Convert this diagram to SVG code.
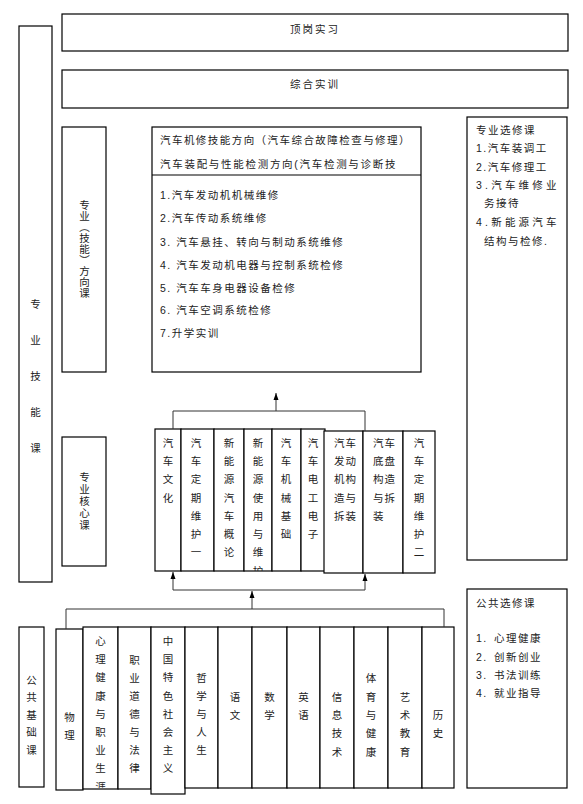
<svg xmlns="http://www.w3.org/2000/svg" width="583" height="804" viewBox="0 0 583 804">
<style>
.box{fill:#fff;stroke:#000;stroke-width:1.2}
.t{font-family:"Liberation Sans","Noto Sans CJK SC",sans-serif;font-size:10.5px;fill:#222}
.c{text-anchor:middle;dominant-baseline:central}
.l{dominant-baseline:central;letter-spacing:1.5px}
.vr{writing-mode:vertical-rl;text-anchor:middle;letter-spacing:1.5px}
.conn{stroke:#333;fill:none;stroke-width:1}
</style>
<defs>
<marker id="arr" markerUnits="userSpaceOnUse" markerWidth="8" markerHeight="8" viewBox="0 0 8 8" refX="7" refY="4" orient="auto">
<path d="M0,1.5 L7,4 L0,6.5 z" fill="#000"/>
</marker>
<clipPath id="clipXin"><rect x="83" y="627" width="35" height="161"/></clipPath>
<clipPath id="clipWei"><rect x="244" y="429" width="28" height="142"/></clipPath>
</defs>

<g id="n-zhuanye-jineng">
<rect class="box" x="19" y="26" width="33" height="556"/>
<text class="t c"><tspan x="35.5" y="304">专</tspan><tspan x="35.5" y="340">业</tspan><tspan x="35.5" y="376">技</tspan><tspan x="35.5" y="412">能</tspan><tspan x="35.5" y="448">课</tspan></text>
</g>

<g id="n-dinggang">
<rect class="box" x="62" y="14" width="506" height="37"/>
<text class="t c" x="315" y="29" style="letter-spacing:2px">顶岗实习</text>
</g>
<g id="n-zonghe">
<rect class="box" x="62" y="70" width="506" height="38"/>
<text class="t c" x="315" y="84" style="letter-spacing:2px">综合实训</text>
</g>

<g id="n-fangxiang-label">
<rect class="box" x="62" y="127" width="44" height="245"/>
<text class="t vr" x="84" y="249.5" style="letter-spacing:0.5px">专业（技能）方向课</text>
</g>

<g id="n-fangxiang">
<rect class="box" x="152" y="127" width="269" height="245"/>
<line x1="152" y1="175" x2="421" y2="175" stroke="#000" stroke-width="1.2"/>
<text class="t l" x="160" y="140" textLength="251" lengthAdjust="spacing">汽车机修技能方向（汽车综合故障检查与修理）</text>
<text class="t l" x="160" y="164" textLength="237" lengthAdjust="spacing">汽车装配与性能检测方向(汽车检测与诊断技</text>
<text class="t l" x="160" y="195">1.汽车发动机机械维修</text>
<text class="t l" x="160" y="218">2.汽车传动系统维修</text>
<text class="t l" x="160" y="242">3. 汽车悬挂、转向与制动系统维修</text>
<text class="t l" x="160" y="265">4. 汽车发动机电器与控制系统检修</text>
<text class="t l" x="160" y="288">5. 汽车车身电器设备检修</text>
<text class="t l" x="160" y="310">6. 汽车空调系统检修</text>
<text class="t l" x="160" y="333">7.升学实训</text>
</g>

<g id="n-zhuanye-xuanxiu">
<rect class="box" x="467" y="117" width="100" height="443"/>
<text class="t l" x="476" y="130">专业选修课</text>
<text class="t l" x="476" y="148">1.汽车装调工</text>
<text class="t l" x="476" y="167">2.汽车修理工</text>
<text class="t l" x="476" y="185" textLength="82" lengthAdjust="spacing">3.汽车维修业</text>
<text class="t l" x="484" y="203">务接待</text>
<text class="t l" x="476" y="222" textLength="82" lengthAdjust="spacing">4.新能源汽车</text>
<text class="t l" x="484" y="241">结构与检修.</text>
</g>

<g id="n-hexin-label">
<rect class="box" x="62" y="437" width="44" height="129"/>
<text class="t vr" x="84" y="501.5">专业核心课</text>
</g>

<g id="n-qiche-wenhua">
<rect class="box" x="155" y="429" width="26" height="142"/>
<text class="t c"><tspan x="168" y="443">汽</tspan><tspan x="168" y="461">车</tspan><tspan x="168" y="479">文</tspan><tspan x="168" y="498">化</tspan></text>
</g>
<g id="n-dingqi-1">
<rect class="box" x="181" y="429" width="33" height="142"/>
<text class="t c"><tspan x="196" y="443">汽</tspan><tspan x="196" y="461">车</tspan><tspan x="196" y="479">定</tspan><tspan x="196" y="498">期</tspan><tspan x="196" y="516">维</tspan><tspan x="196" y="534">护</tspan><tspan x="196" y="552">一</tspan></text>
</g>
<g id="n-xinnengyuan-gailun">
<rect class="box" x="214" y="429" width="30" height="142"/>
<text class="t c"><tspan x="229" y="443">新</tspan><tspan x="229" y="461">能</tspan><tspan x="229" y="479">源</tspan><tspan x="229" y="498">汽</tspan><tspan x="229" y="516">车</tspan><tspan x="229" y="534">概</tspan><tspan x="229" y="552">论</tspan></text>
</g>
<g id="n-xinnengyuan-shiyong">
<rect class="box" x="244" y="429" width="28" height="142"/>
<text class="t c" clip-path="url(#clipWei)"><tspan x="258" y="443">新</tspan><tspan x="258" y="461">能</tspan><tspan x="258" y="479">源</tspan><tspan x="258" y="498">使</tspan><tspan x="258" y="516">用</tspan><tspan x="258" y="534">与</tspan><tspan x="258" y="552">维</tspan><tspan x="258" y="571">护</tspan></text>
</g>
<g id="n-jixie">
<rect class="box" x="272" y="429" width="29" height="142"/>
<text class="t c"><tspan x="286" y="443">汽</tspan><tspan x="286" y="461">车</tspan><tspan x="286" y="479">机</tspan><tspan x="286" y="498">械</tspan><tspan x="286" y="516">基</tspan><tspan x="286" y="534">础</tspan></text>
</g>
<g id="n-diangong">
<rect class="box" x="301" y="429" width="24" height="142"/>
<text class="t c"><tspan x="313" y="443">汽</tspan><tspan x="313" y="461">车</tspan><tspan x="313" y="479">电</tspan><tspan x="313" y="498">工</tspan><tspan x="313" y="516">电</tspan><tspan x="313" y="534">子</tspan></text>
</g>
<g id="n-fadongji">
<rect class="box" x="324" y="431" width="39" height="142"/>
<text class="t l" style="letter-spacing:1px"><tspan x="334" y="443">汽车</tspan><tspan x="334" y="461">发动</tspan><tspan x="334" y="479">机构</tspan><tspan x="334" y="498">造与</tspan><tspan x="334" y="516">拆装</tspan></text>
</g>
<g id="n-dipan">
<rect class="box" x="363" y="431" width="40" height="142"/>
<text class="t l" style="letter-spacing:1px"><tspan x="373" y="443">汽车</tspan><tspan x="373" y="461">底盘</tspan><tspan x="373" y="479">构造</tspan><tspan x="373" y="498">与拆</tspan><tspan x="373" y="516">装</tspan></text>
</g>
<g id="n-dingqi-2">
<rect class="box" x="403" y="431" width="32" height="142"/>
<text class="t c"><tspan x="419" y="443">汽</tspan><tspan x="419" y="461">车</tspan><tspan x="419" y="479">定</tspan><tspan x="419" y="498">期</tspan><tspan x="419" y="516">维</tspan><tspan x="419" y="534">护</tspan><tspan x="419" y="552">二</tspan></text>
</g>

<g id="n-gonggong-label">
<rect class="box" x="19" y="627" width="25" height="160"/>
<text class="t c"><tspan x="31.5" y="680">公</tspan><tspan x="31.5" y="697">共</tspan><tspan x="31.5" y="715">基</tspan><tspan x="31.5" y="732">础</tspan><tspan x="31.5" y="750">课</tspan></text>
</g>

<g id="n-wuli">
<rect class="box" x="56" y="629" width="27" height="161"/>
<text class="t c"><tspan x="69.5" y="717">物</tspan><tspan x="69.5" y="735">理</tspan></text>
</g>
<g id="n-xinli">
<rect class="box" x="83" y="627" width="35" height="162"/>
<text class="t c" clip-path="url(#clipXin)"><tspan x="100.5" y="641">心</tspan><tspan x="100.5" y="659">理</tspan><tspan x="100.5" y="677">健</tspan><tspan x="100.5" y="696">康</tspan><tspan x="100.5" y="714">与</tspan><tspan x="100.5" y="732">职</tspan><tspan x="100.5" y="750">业</tspan><tspan x="100.5" y="768">生</tspan><tspan x="100.5" y="787">涯</tspan></text>
</g>
<g id="n-zhiye">
<rect class="box" x="118" y="627" width="33" height="162"/>
<text class="t c"><tspan x="134.5" y="660">职</tspan><tspan x="134.5" y="678">业</tspan><tspan x="134.5" y="696">道</tspan><tspan x="134.5" y="714">德</tspan><tspan x="134.5" y="732">与</tspan><tspan x="134.5" y="750">法</tspan><tspan x="134.5" y="768">律</tspan></text>
</g>
<g id="n-zhongguo">
<rect class="box" x="151" y="627" width="34" height="167"/>
<text class="t c"><tspan x="168" y="641">中</tspan><tspan x="168" y="659">国</tspan><tspan x="168" y="677">特</tspan><tspan x="168" y="696">色</tspan><tspan x="168" y="714">社</tspan><tspan x="168" y="732">会</tspan><tspan x="168" y="750">主</tspan><tspan x="168" y="768">义</tspan></text>
</g>
<g id="n-zhexue">
<rect class="box" x="185" y="627" width="33" height="161"/>
<text class="t c"><tspan x="201.5" y="678">哲</tspan><tspan x="201.5" y="696">学</tspan><tspan x="201.5" y="714">与</tspan><tspan x="201.5" y="732">人</tspan><tspan x="201.5" y="750">生</tspan></text>
</g>
<g id="n-yuwen">
<rect class="box" x="218" y="627" width="34" height="161"/>
<text class="t c"><tspan x="235" y="697">语</tspan><tspan x="235" y="715">文</tspan></text>
</g>
<g id="n-shuxue">
<rect class="box" x="252" y="627" width="35" height="161"/>
<text class="t c"><tspan x="269.5" y="697">数</tspan><tspan x="269.5" y="715">学</tspan></text>
</g>
<g id="n-yingyu">
<rect class="box" x="287" y="627" width="33" height="161"/>
<text class="t c"><tspan x="303.5" y="697">英</tspan><tspan x="303.5" y="715">语</tspan></text>
</g>
<g id="n-xinxi">
<rect class="box" x="320" y="627" width="34" height="161"/>
<text class="t c"><tspan x="337" y="697">信</tspan><tspan x="337" y="715">息</tspan><tspan x="337" y="733">技</tspan><tspan x="337" y="752">术</tspan></text>
</g>
<g id="n-tiyu">
<rect class="box" x="354" y="627" width="34" height="161"/>
<text class="t c"><tspan x="371" y="678">体</tspan><tspan x="371" y="697">育</tspan><tspan x="371" y="715">与</tspan><tspan x="371" y="733">健</tspan><tspan x="371" y="752">康</tspan></text>
</g>
<g id="n-yishu">
<rect class="box" x="388" y="627" width="34" height="161"/>
<text class="t c"><tspan x="405" y="697">艺</tspan><tspan x="405" y="715">术</tspan><tspan x="405" y="733">教</tspan><tspan x="405" y="752">育</tspan></text>
</g>
<g id="n-lishi">
<rect class="box" x="422" y="627" width="32" height="161"/>
<text class="t c"><tspan x="438" y="715">历</tspan><tspan x="438" y="733">史</tspan></text>
</g>

<g id="n-gonggong-xuanxiu">
<rect class="box" x="467" y="589" width="100" height="199"/>
<text class="t l" x="476" y="603">公共选修课</text>
<text class="t l" x="476" y="638"><tspan>1.</tspan><tspan x="494">心理健康</tspan></text>
<text class="t l" x="476" y="657"><tspan>2.</tspan><tspan x="494">创新创业</tspan></text>
<text class="t l" x="476" y="675"><tspan>3.</tspan><tspan x="494">书法训练</tspan></text>
<text class="t l" x="476" y="693"><tspan>4.</tspan><tspan x="494">就业指导</tspan></text>
</g>

<g id="connectors">
<polyline class="conn" points="173,429 173,411 365,411 365,431"/>
<line class="conn" x1="276" y1="411" x2="276" y2="393" marker-end="url(#arr)"/>
<line class="conn" x1="173" y1="590" x2="365" y2="590"/>
<line class="conn" x1="173" y1="590" x2="173" y2="572" marker-end="url(#arr)"/>
<line class="conn" x1="365" y1="590" x2="365" y2="574" marker-end="url(#arr)"/>
<polyline class="conn" points="66,629 66,609 444,609 444,627"/>
<line class="conn" x1="252" y1="609" x2="252" y2="591" marker-end="url(#arr)"/>
</g>
</svg>
